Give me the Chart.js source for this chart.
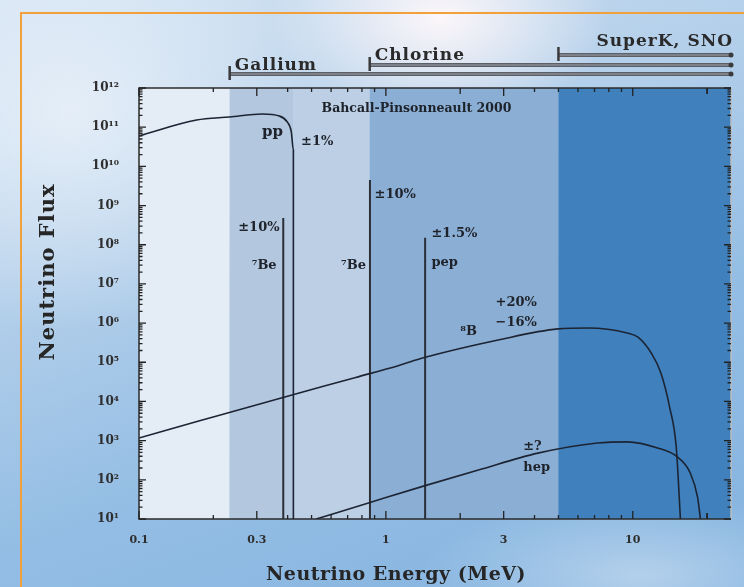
<!DOCTYPE html>
<html>
<head>
<meta charset="utf-8">
<script src="https://cdn.jsdelivr.net/npm/chart.js@4"></script>
<style>
  html, body { margin: 0; padding: 0; }
  body {
    width: 744px; height: 587px; position: relative; overflow: hidden;
    background:
      radial-gradient(ellipse 170px 110px at 440px 18px, rgba(255,248,250,0.95), rgba(255,255,255,0) 100%),
      radial-gradient(ellipse 260px 220px at 70px 110px, rgba(232,240,249,0.9), rgba(232,240,249,0) 100%),
      radial-gradient(ellipse 220px 80px at 640px 575px, rgba(190,215,238,0.8), rgba(190,215,238,0) 100%),
      linear-gradient(160deg, #d3e3f2 0%, #b3cfea 35%, #93bde4 65%, #84b3df 100%);
  }
  #frame {
    position: absolute; left: 20px; top: 12px; right: 0; bottom: 0;
    border-left: 2px solid #f2a03a; border-top: 2px solid #f2a03a;
  }
  canvas { position: absolute; left: 0; top: 0; }
</style>
</head>
<body>
<div id="frame"></div>
<canvas id="myChart" width="744" height="587"></canvas>
<script>
// axis ranges
const xMin = 0.1, xMax = 25;
const yMin = 10, yMax = 1e12;
const xTickLabels = [0.1, 0.3, 1, 3, 10];
const yDecades = [1, 2, 3, 4, 5, 6, 7, 8, 9, 10, 11, 12];

// pp continuum
const ppEnergy = [0.1, 0.171, 0.233, 0.316, 0.37, 0.399, 0.414, 0.422, 0.422];
const ppFlux = [6.0e10, 1.52e11, 1.82e11, 2.17e11, 1.93e11, 1.35e11, 7.6e10, 2.6e10, 10];

// 8B continuum
const b8Energy = [0.1, 0.176, 0.38, 0.755, 1.13, 1.42, 2.85, 4.98, 6.6, 9.5, 10.5, 11.9, 13.0, 14.1, 15.0, 15.6];
const b8Flux = [1.17e3, 3.2e3, 1.25e4, 4.1e4, 8.3e4, 1.3e5, 3.7e5, 7.1e5, 7.5e5, 5.6e5, 4.4e5, 1.7e5, 5.3e4, 7.2e3, 690, 10];

// hep continuum
const hepEnergy = [0.522, 0.85, 1.42, 2.37, 4.13, 7.2, 9.5, 12.6, 15.2, 17.1, 18.3, 18.8];
const hepFlux = [10, 25.7, 69, 178, 480, 870, 930, 650, 380, 149, 36, 10];

// line sources (7Be, 7Be, pep)
const lineEnergy = [0.384, 0.862, 1.442];
const lineFlux = [4.8e8, 4.5e9, 1.5e8];

// shaded threshold regions
const regionEdges = [0.1, 0.233, 0.422, 0.86, 5, 25];
const regionColors = ['#e4ecf6', '#b3c7df', '#bccfe5', '#8baed4', '#3f80bd'];

// detectors shown above the plot
const detectorNames = ['Gallium', 'Chlorine', 'SuperK, SNO'];
const detectorThresholds = [0.233, 0.86, 5];

// text notes inside the plot
const noteText = ['Bahcall-Pinsonneault 2000', 'pp', '±1%', '±10%', '⁷Be', '⁷Be', '±10%', '±1.5%', 'pep', '⁸B', '+20%', '−16%', '±?', 'hep'];
const noteEnergy = [1.33, 0.347, 0.527, 0.371, 0.361, 0.83, 0.90, 1.53, 1.53, 2.0, 2.78, 2.78, 3.6, 3.6];
const noteFlux = [2.9e11, 7.5e10, 4.2e10, 2.8e8, 3.0e7, 3.0e7, 1.86e9, 1.9e8, 3.4e7, 5.9e5, 3.3e6, 1.0e6, 690, 200];
const noteAlign = ['center', 'center', 'center', 'right', 'right', 'right', 'left', 'left', 'left', 'left', 'left', 'left', 'left', 'left'];

const FONT = "'DejaVu Serif', serif";
const SUP = '⁰¹²³⁴⁵⁶⁷⁸⁹';
const sup = n => String(n).split('').map(d => SUP[+d]).join('');
const isDecade = v => Math.abs(Math.log10(v) - Math.round(Math.log10(v))) < 1e-6;
const isLabelled = v => xTickLabels.some(l => Math.abs(l - v) < 1e-9);

const toPoints = (xs, ys) => xs.map((x, i) => ({ x: x, y: ys[i] }));

// minor+major tick values
const xTickValues = [];
[0.1, 1, 10].forEach(d => {
  for (let m = 1; m <= 9; m++) {
    const v = +(m * d).toPrecision(3);
    if (v <= xMax) xTickValues.push(v);
  }
});
xTickValues.push(20);
const yTickValues = [];
yDecades.forEach(e => {
  for (let m = 1; m <= 9; m++) {
    const v = m * Math.pow(10, e);
    if (v <= yMax) yTickValues.push(v);
  }
});

const curveStyle = { borderColor: '#1c2433', borderWidth: 1.6, pointRadius: 0, fill: false, cubicInterpolationMode: 'monotone' };

const datasets = [
  Object.assign({ label: 'pp', data: toPoints(ppEnergy, ppFlux) }, curveStyle),
  Object.assign({ label: '8B', data: toPoints(b8Energy, b8Flux) }, curveStyle),
  Object.assign({ label: 'hep', data: toPoints(hepEnergy, hepFlux) }, curveStyle)
];
lineEnergy.forEach((e, i) => {
  datasets.push({
    label: 'line' + i,
    data: [{ x: e, y: yMin }, { x: e, y: lineFlux[i] }],
    borderColor: '#2a2f38', borderWidth: 2, pointRadius: 0, fill: false
  });
});

const decor = {
  id: 'decor',
  beforeDatasetsDraw(chart) {
    const { ctx, chartArea: a, scales: { x } } = chart;
    ctx.save();
    for (let i = 0; i < regionColors.length; i++) {
      const x0 = x.getPixelForValue(regionEdges[i]);
      const x1 = x.getPixelForValue(regionEdges[i + 1]);
      ctx.fillStyle = regionColors[i];
      ctx.fillRect(x0, a.top, x1 - x0, a.bottom - a.top);
    }
    ctx.restore();
  },
  afterDatasetsDraw(chart) {
    const { ctx, chartArea: a, scales: { x, y } } = chart;
    ctx.save();

    // frame
    ctx.lineWidth = 1.5;
    ctx.strokeStyle = '#bdbdbd';
    ctx.beginPath(); ctx.moveTo(a.right, a.top); ctx.lineTo(a.right, a.bottom); ctx.stroke();
    ctx.strokeStyle = '#2b2b2b';
    ctx.beginPath();
    ctx.moveTo(a.right, a.top); ctx.lineTo(a.left, a.top);
    ctx.lineTo(a.left, a.bottom); ctx.lineTo(a.right, a.bottom);
    ctx.stroke();

    // inward ticks
    ctx.strokeStyle = '#222';
    ctx.lineWidth = 1.3;
    x.ticks.forEach(t => {
      const px = x.getPixelForValue(t.value);
      const len = isLabelled(t.value) ? 8 : (t.value === 2 || t.value === 20 ? 6 : 4);
      ctx.beginPath();
      ctx.moveTo(px, a.bottom); ctx.lineTo(px, a.bottom - len);
      ctx.moveTo(px, a.top); ctx.lineTo(px, a.top + len);
      ctx.stroke();
    });
    y.ticks.forEach(t => {
      const py = y.getPixelForValue(t.value);
      const len = isDecade(t.value) ? 7 : 3.5;
      ctx.beginPath();
      ctx.moveTo(a.left, py); ctx.lineTo(a.left + len, py);
      ctx.moveTo(a.right, py); ctx.lineTo(a.right - len, py);
      ctx.stroke();
    });

    // notes
    ctx.fillStyle = '#1e222a';
    ctx.textBaseline = 'middle';
    noteText.forEach((txt, i) => {
      ctx.font = (i === 0 ? 'bold 12.5px ' : (txt === 'pp' ? 'bold 15px ' : 'bold 13px ')) + FONT;
      ctx.textAlign = noteAlign[i];
      ctx.fillText(txt, x.getPixelForValue(noteEnergy[i]), y.getPixelForValue(noteFlux[i]));
    });

    // detector thresholds above the plot
    const barY = [74, 65, 55];
    const labelY = [70, 60, 46];
    ctx.font = 'bold 17px ' + FONT;
    ctx.letterSpacing = '1px';
    ctx.textBaseline = 'alphabetic';
    detectorNames.forEach((name, i) => {
      const x0 = x.getPixelForValue(detectorThresholds[i]);
      const x1 = a.right;
      ctx.strokeStyle = '#5c5f66';
      ctx.lineWidth = 4;
      ctx.beginPath(); ctx.moveTo(x0, barY[i]); ctx.lineTo(x1, barY[i]); ctx.stroke();
      ctx.strokeStyle = '#9ea4ad';
      ctx.lineWidth = 1;
      ctx.beginPath(); ctx.moveTo(x0, barY[i]); ctx.lineTo(x1, barY[i]); ctx.stroke();
      ctx.strokeStyle = '#3a3a3a';
      ctx.lineWidth = 2.5;
      ctx.beginPath(); ctx.moveTo(x0, barY[i] - 8); ctx.lineTo(x0, barY[i] + 6); ctx.stroke();
      ctx.fillStyle = '#3a3a3a';
      ctx.beginPath(); ctx.arc(x1, barY[i], 2.5, 0, Math.PI * 2); ctx.fill();
      ctx.fillStyle = '#2a2a2a';
      if (i === detectorNames.length - 1) {
        ctx.textAlign = 'right';
        ctx.fillText(name, a.right + 2, labelY[i]);
      } else {
        ctx.textAlign = 'left';
        ctx.fillText(name, x0 + 5, labelY[i]);
      }
    });
    ctx.letterSpacing = '0px';

    // axis titles
    ctx.fillStyle = '#262626';
    ctx.font = 'bold 19px ' + FONT;
    ctx.letterSpacing = '0.5px';
    ctx.textAlign = 'center';
    ctx.textBaseline = 'alphabetic';
    ctx.fillText('Neutrino Energy (MeV)', 396, 580);
    ctx.translate(49, 272);
    ctx.rotate(-Math.PI / 2);
    ctx.font = 'bold 21px ' + FONT;
    ctx.letterSpacing = '1px';
    ctx.textBaseline = 'middle';
    ctx.fillText('Neutrino Flux', 0, 0);
    ctx.restore();
  }
};

const ctx = document.getElementById('myChart').getContext('2d');
new Chart(ctx, {
  type: 'line',
  data: { datasets: datasets },
  options: {
    responsive: false,
    devicePixelRatio: 1,
    animation: false,
    layout: { padding: { top: 88, right: 13, left: 0, bottom: 0 } },
    plugins: { legend: { display: false }, tooltip: { enabled: false } },
    scales: {
      x: {
        type: 'logarithmic',
        min: xMin,
        max: xMax,
        afterBuildTicks: scale => { scale.ticks = xTickValues.map(v => ({ value: v })); },
        afterFit: scale => { scale.height = 68; },
        grid: { display: false },
        border: { display: false },
        ticks: {
          autoSkip: false,
          maxRotation: 0,
          padding: 7,
          color: '#2e2e2e',
          font: { family: FONT, size: 11, weight: 'bold' },
          callback: v => isLabelled(v) ? String(v) : ''
        }
      },
      y: {
        type: 'logarithmic',
        min: yMin,
        max: yMax,
        afterBuildTicks: scale => { scale.ticks = yTickValues.map(v => ({ value: v })); },
        afterFit: scale => { scale.width = 139; },
        grid: { display: false },
        border: { display: false },
        ticks: {
          autoSkip: false,
          padding: 12,
          color: '#2e2e2e',
          font: { family: FONT, size: 12, weight: 'bold' },
          callback: v => isDecade(v) ? '10' + sup(Math.round(Math.log10(v))) : ''
        }
      }
    }
  },
  plugins: [decor]
});
</script>
</body>
</html>
